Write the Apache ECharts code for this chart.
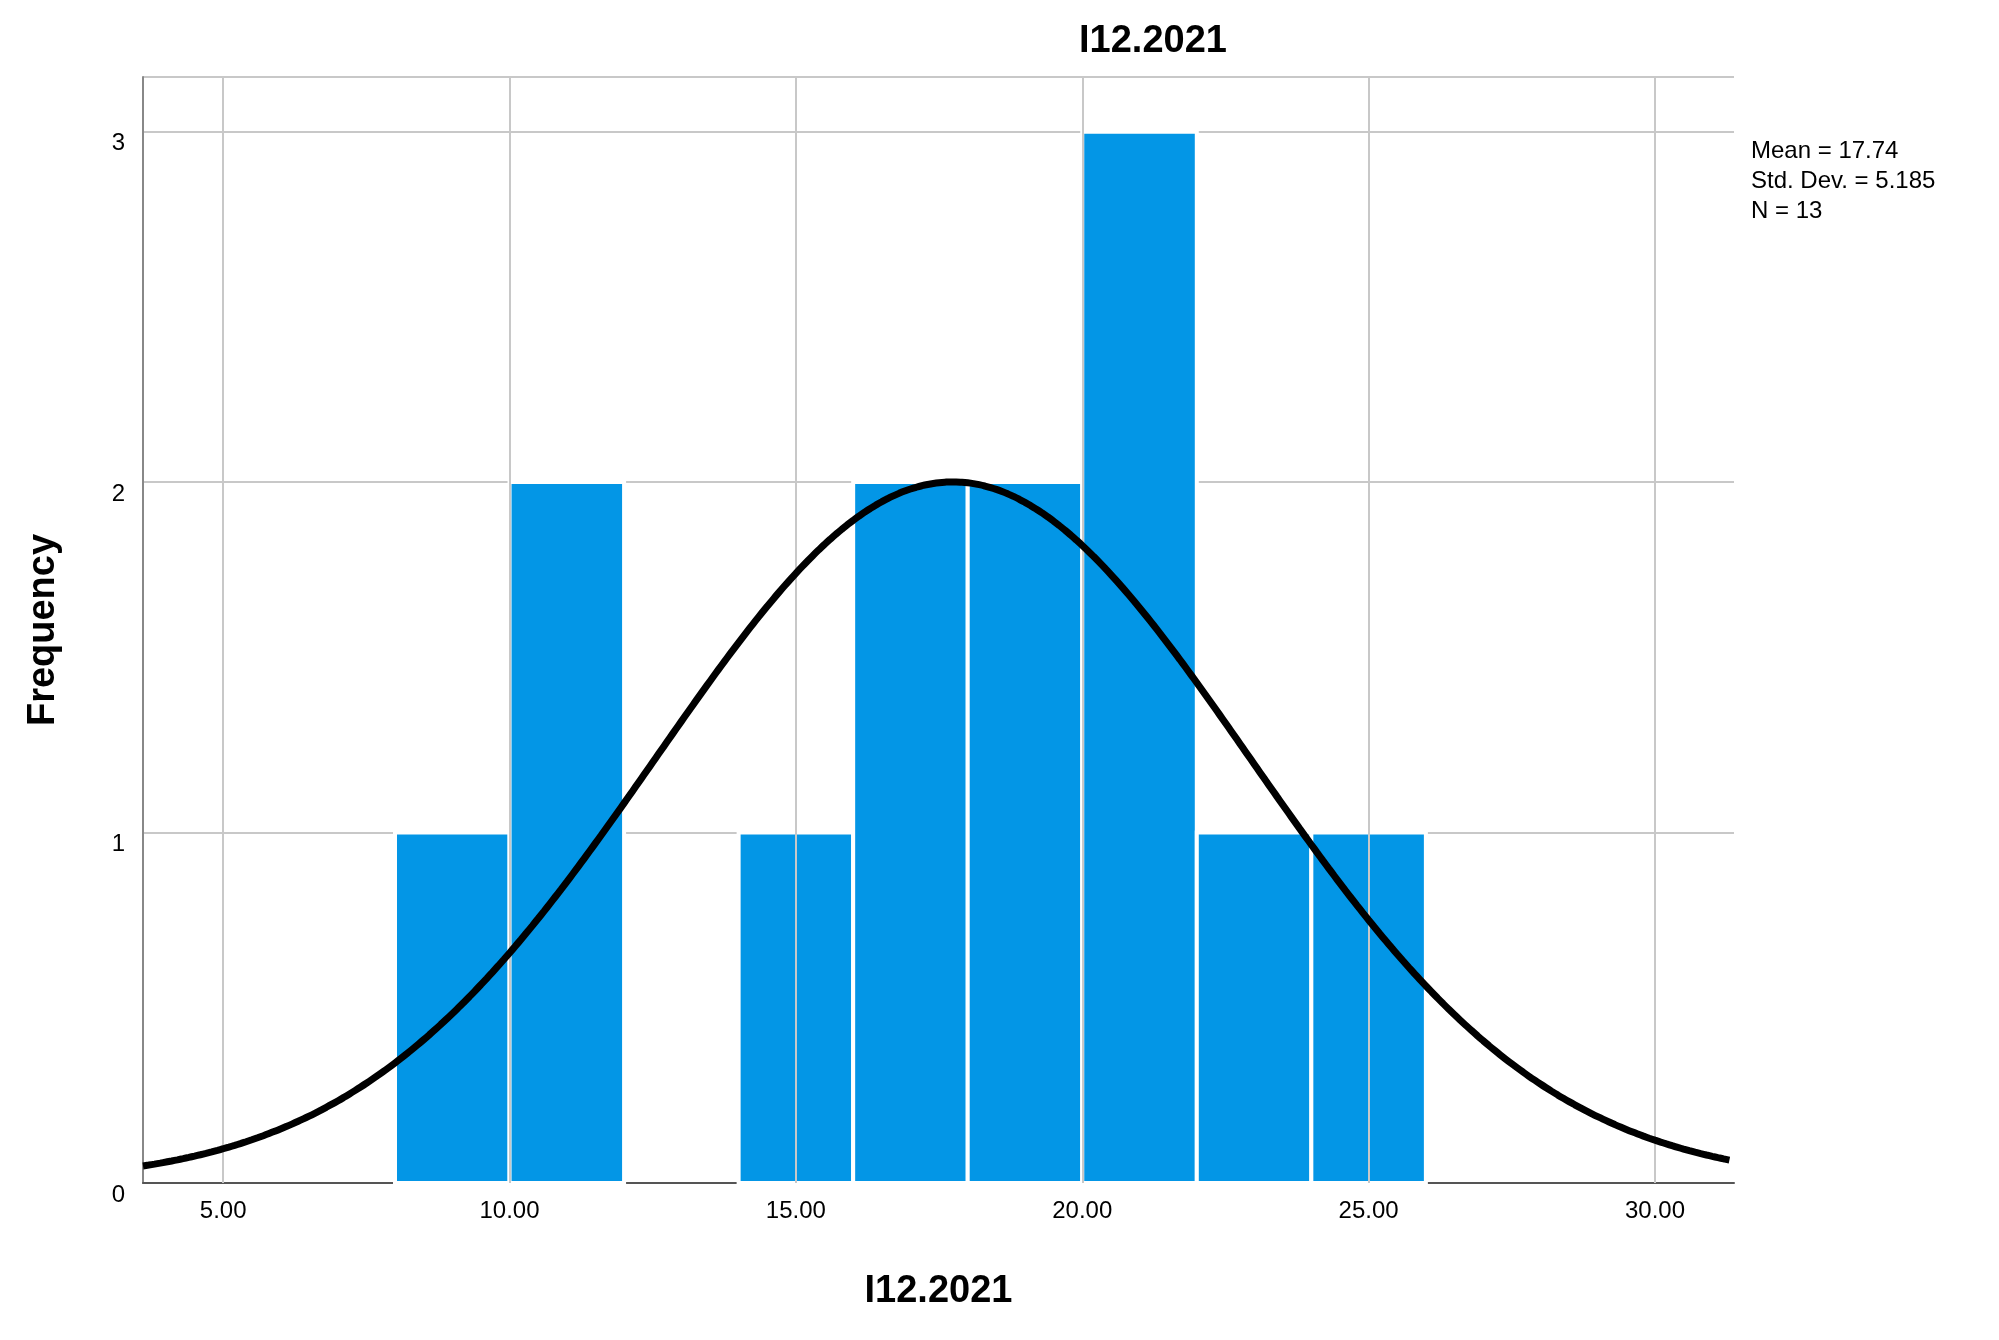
<!DOCTYPE html>
<html>
<head>
<meta charset="utf-8">
<script src="https://cdn.jsdelivr.net/npm/echarts@6/dist/echarts.min.js"></script>
<style>html,body{margin:0;padding:0;background:#fff}#chart{width:1999px;height:1340px}</style>
</head>
<body>
<div id="chart"></div>
<script>
// histogram bins (start, end) and counts
const binStarts = [8, 10, 14, 16, 18, 20, 22, 24]
const binWidth = 2
const counts = [1, 2, 1, 2, 2, 3, 1, 1]
const xTicks = [5, 10, 15, 20, 25, 30]
const yTicks = [0, 1, 2, 3]
const mean = 17.74
const stdDev = 5.185
const n = 13

// fitted normal curve from the reported stats
const curve = []
for (let x = 3.6; x <= 31.4; x += 0.1) {
  const y = n * binWidth / (stdDev * Math.sqrt(2 * Math.PI)) * Math.exp(-0.5 * Math.pow((x - mean) / stdDev, 2))
  curve.push([x, y])
}

const myChart = echarts.init(document.getElementById('chart'))
const font = 'Arial, "Liberation Sans", sans-serif'
const options = {
  animation: false,
  grid: { left: 143, right: 265, top: 77, bottom: 157 },
  title: {
    text: 'I12.2021', left: 1148, top: 18, textAlign: 'center',
    textStyle: { fontFamily: font, fontSize: 38, fontWeight: 'bold', color: '#000' }
  },
  graphic: [{
    type: 'text', left: 1751, top: 136,
    style: { text: 'Mean = 17.74\nStd. Dev. = 5.185\nN = 13', fontFamily: font, fontSize: 24, lineHeight: 30, fill: '#000' }
  }],
  xAxis: {
    type: 'value', min: 3.6, max: 31.38,
    name: 'I12.2021', nameLocation: 'middle', nameGap: 90,
    nameTextStyle: { fontFamily: font, fontSize: 38, fontWeight: 'bold', color: '#000' },
    axisLine: { lineStyle: { color: '#555', width: 2 } },
    axisTick: { show: false },
    splitLine: { show: false },
    axisLabel: {
      customValues: xTicks, margin: 16,
      formatter: v => v.toFixed(2),
      fontFamily: font, fontSize: 24, color: '#000'
    }
  },
  yAxis: {
    type: 'value', min: 0, max: 3.156, interval: 1,
    name: 'Frequency', nameLocation: 'middle', nameGap: 80, nameRotate: 90,
    nameTextStyle: { fontFamily: font, fontSize: 38, fontWeight: 'bold', color: '#000' },
    axisLine: { show: true, lineStyle: { color: '#888', width: 2 } },
    axisTick: { show: false },
    splitLine: { lineStyle: { color: '#c8c8c8', width: 2 } },
    axisLabel: {
      customValues: yTicks, margin: 18,
      fontFamily: font, fontSize: 24, color: '#000', verticalAlign: 'top'
    }
  },
  series: [
    {
      type: 'line', data: [], silent: true,
      markLine: {
        symbol: 'none', silent: true, label: { show: false },
        lineStyle: { color: '#c8c8c8', width: 2, type: 'solid' },
        data: xTicks.map(v => ({ xAxis: v }))
      }
    },
    {
      type: 'custom',
      data: binStarts.map((s, i) => [s, s + binWidth, counts[i]]),
      encode: { x: [0, 1], y: 2 },
      renderItem: (params, api) => {
        const p0 = api.coord([api.value(0), 0])
        const p1 = api.coord([api.value(1), api.value(2)])
        return {
          type: 'rect',
          shape: { x: p0[0], y: p1[1], width: p1[0] - p0[0], height: p0[1] - p1[1] },
          style: { fill: '#0396e6', stroke: '#fff', lineWidth: 4 }
        }
      }
    },
    {
      type: 'line', data: curve, showSymbol: false, smooth: true,
      lineStyle: { color: '#000', width: 7 }, z: 5
    }
  ]
}
options && myChart.setOption(options)
</script>
</body>
</html>
